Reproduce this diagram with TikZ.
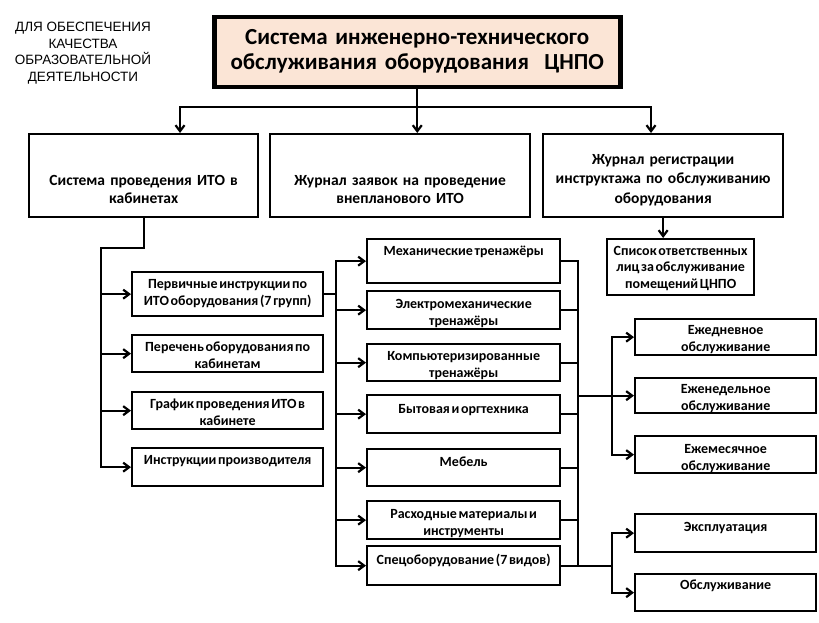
\documentclass[tikz,border=0pt]{standalone}
\usepackage{fontspec}
\setmainfont{Carlito}
\newfontfamily\notefont{Liberation Sans}
\usetikzlibrary{arrows.meta}
\definecolor{peach}{HTML}{FBE5D6}
\tikzset{
  box/.style={draw, line width=2.3pt, fill=white, anchor=north west, inner sep=0pt,
    align=center, font=\bfseries\fontsize{15.5}{18}\selectfont},
  cell/.style={box, font=\bfseries\fontsize{14}{17}\selectfont,
    execute at begin node={\spaceskip=0.12em\relax}},
  conn/.style={line width=2.2pt, line cap=rect},
  arr/.style={line width=2.2pt, -{Straight Barb[length=6pt,width=9pt]}}
}

\begin{document}
\begin{tikzpicture}[x=1pt,y=-1pt]
  \useasboundingbox (0,0) rectangle (819,623);

  \node[align=center, font=\notefont\fontsize{13.5}{16.5}\selectfont] (goal) at (83,53)
    {ДЛЯ ОБЕСПЕЧЕНИЯ\\КАЧЕСТВА\\ОБРАЗОВАТЕЛЬНОЙ\\ДЕЯТЕЛЬНОСТИ};

  \node[box, fill=peach, line width=4.5pt, text width=406pt, text height=27pt, text depth=43pt,
    font=\bfseries\fontsize{23}{25}\selectfont] (title) at (212,15)
    {Система инженерно-технического\\обслуживания оборудования\ \ ЦНПО};

  \node[box, text width=229pt, text height=51pt, text depth=32pt] (sys) at (28,133)
    {Система проведения ИТО в\\кабинетах};
  \node[box, text width=260pt, text height=51pt, text depth=32pt] (req) at (269,133)
    {Журнал заявок на проведение\\внепланового ИТО};
  \node[box, text width=240pt, text height=30pt, text depth=53pt,
    font=\bfseries\fontsize{15.5}{19.5}\selectfont] (reg) at (542,133)
    {Журнал регистрации\\инструктажа по обслуживанию\\оборудования};
  \node[cell, text width=147pt, text height=16pt, text depth=40pt,
    font=\bfseries\fontsize{14}{16.5}\selectfont] (resp) at (606,238)
    {Список ответственных\\лиц за обслуживание\\помещений ЦНПО};

  \node[cell, text width=191pt, text height=16pt, text depth=28pt] (prim) at (131,271)
    {Первичные инструкции по\\ИТО оборудования (7 групп)};
  \node[cell, text width=191pt, text height=16pt, text depth=21pt] (inv) at (131,334)
    {Перечень оборудования по\\кабинетам};
  \node[cell, text width=191pt, text height=16pt, text depth=21pt] (sched) at (131,391)
    {График проведения ИТО в\\кабинете};
  \node[cell, text width=191pt, text height=16pt, text depth=22pt] (manuf) at (131,447)
    {Инструкции производителя};

  \node[cell, text width=193pt, text height=16pt, text depth=28pt] (mech) at (366,238)
    {Механические тренажёры};
  \node[cell, text width=193pt, text height=17pt, text depth=21pt] (elmech) at (366,290)
    {Электромеханические\\тренажёры};
  \node[cell, text width=193pt, text height=16pt, text depth=21pt] (comp) at (366,343)
    {Компьютеризированные\\тренажёры};
  \node[cell, text width=193pt, text height=18pt, text depth=20pt] (office) at (366,394)
    {Бытовая и оргтехника};
  \node[cell, text width=193pt, text height=17pt, text depth=20pt] (furn) at (366,448)
    {Мебель};
  \node[cell, text width=193pt, text height=17pt, text depth=21pt] (supp) at (366,500)
    {Расходные материалы и\\инструменты};
  \node[cell, text width=193pt, text height=18pt, text depth=21pt] (spec) at (366,545)
    {Спецоборудование (7 видов)};

  \node[cell, text width=181pt, text height=15pt, text depth=21pt] (daily) at (634,318)
    {Ежедневное\\обслуживание};
  \node[cell, text width=181pt, text height=15pt, text depth=20pt] (weekly) at (634,377)
    {Еженедельное\\обслуживание};
  \node[cell, text width=181pt, text height=17pt, text depth=20pt] (monthly) at (634,435)
    {Ежемесячное\\обслуживание};
  \node[cell, text width=181pt, text height=17pt, text depth=21pt] (oper) at (634,513)
    {Эксплуатация};
  \node[cell, text width=181pt, text height=15pt, text depth=22pt] (serv) at (634,573)
    {Обслуживание};

  \coordinate (busl) at (180,107);
  \coordinate (busr) at (651,107);
  \draw[conn] (title.south) -- (title.south |- busl);
  \draw[conn] (busl) -- (busr);
  \draw[arr] (busl) -- (busl |- sys.north);
  \draw[arr] (title.south |- busl) -- (title.south |- req.north);
  \draw[arr] (busr) -- (busr |- reg.north);
  \draw[arr] (reg.south) -- (reg.south |- resp.north);

  \coordinate (lbus) at (101,248);
  \draw[conn] (sys.south) |- (lbus) -- (lbus |- manuf.west);
  \draw[arr] (lbus |- prim.west) -- (prim.west);
  \draw[arr] (lbus |- inv.west) -- (inv.west);
  \draw[arr] (lbus |- sched.west) -- (sched.west);
  \draw[arr] (lbus |- manuf.west) -- (manuf.west);

  \coordinate (mbus) at (336,290);
  \draw[conn] (prim.east) -- (prim.east -| mbus);
  \draw[conn] (mbus |- mech.west) -- (mbus |- spec.west);
  \draw[arr] (mbus |- mech.west) -- (mech.west);
  \draw[arr] (mbus |- elmech.west) -- (elmech.west);
  \draw[arr] (mbus |- comp.west) -- (comp.west);
  \draw[arr] (mbus |- office.west) -- (office.west);
  \draw[arr] (mbus |- furn.west) -- (furn.west);
  \draw[arr] (mbus |- supp.west) -- (supp.west);
  \draw[arr] (mbus |- spec.west) -- (spec.west);

  \coordinate (cbus) at (578,393);
  \coordinate (sbus) at (612,393);
  \coordinate (ebus) at (612,565);
  \draw[conn] (cbus |- mech.east) -- (cbus |- spec.east);
  \draw[conn] (mech.east) -- (mech.east -| cbus);
  \draw[conn] (elmech.east) -- (elmech.east -| cbus);
  \draw[conn] (comp.east) -- (comp.east -| cbus);
  \draw[conn] (office.east) -- (office.east -| cbus);
  \draw[conn] (furn.east) -- (furn.east -| cbus);
  \draw[conn] (supp.east) -- (supp.east -| cbus);
  \draw[conn] (spec.east) -- (spec.east -| ebus);

  \draw[conn] (sbus |- daily.west) -- (sbus |- monthly.west);
  \draw[arr] (cbus |- weekly.west) -- (weekly.west);
  \draw[arr] (sbus |- daily.west) -- (daily.west);
  \draw[arr] (sbus |- monthly.west) -- (monthly.west);

  \draw[conn] (ebus |- oper.west) -- (ebus |- serv.west);
  \draw[arr] (ebus |- oper.west) -- (oper.west);
  \draw[arr] (ebus |- serv.west) -- (serv.west);
\end{tikzpicture}
\end{document}
